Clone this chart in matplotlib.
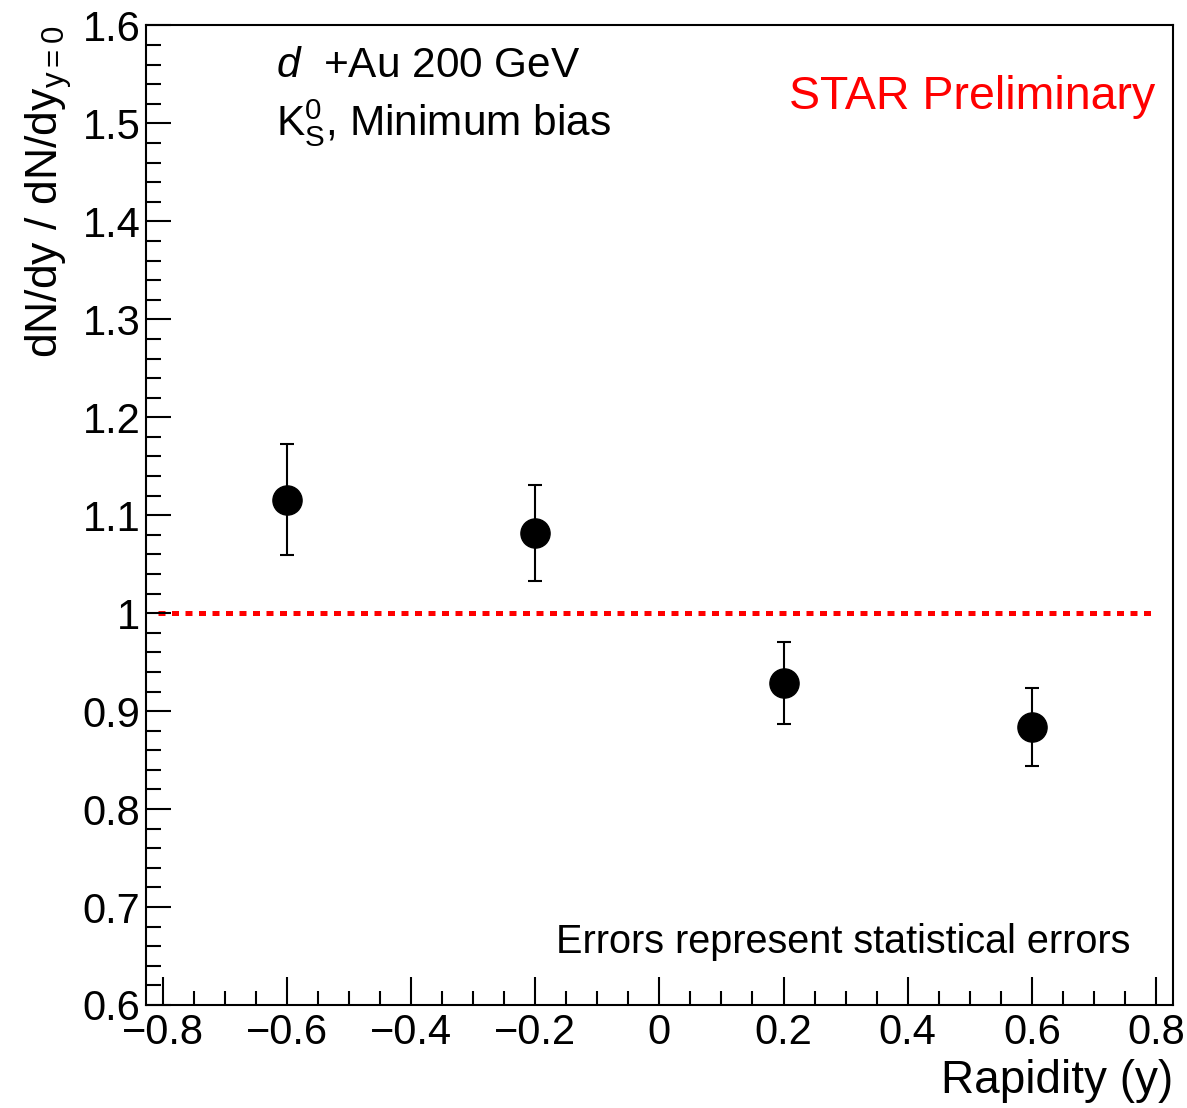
import matplotlib
matplotlib.use("Agg")
import matplotlib.pyplot as plt
from matplotlib.ticker import MultipleLocator, FuncFormatter

plt.rcParams['font.family'] = ['Liberation Sans', 'DejaVu Sans']
plt.rcParams['mathtext.fontset'] = 'custom'
plt.rcParams['mathtext.rm'] = 'Liberation Sans'
plt.rcParams['mathtext.it'] = 'Liberation Sans:italic'

rapidity = [-0.6, -0.2, 0.2, 0.6]
ratio = [1.116, 1.082, 0.929, 0.884]
stat_err = [0.057, 0.049, 0.042, 0.040]
xticks = [-0.8, -0.6, -0.4, -0.2, 0, 0.2, 0.4, 0.6, 0.8]
yticks = [0.6, 0.7, 0.8, 0.9, 1.0, 1.1, 1.2, 1.3, 1.4, 1.5, 1.6]

fig = plt.figure(figsize=(11.87, 11.08), dpi=100)
ax = fig.add_axes([0.123, 0.093, 0.865, 0.884])

ax.plot([-0.808, 0.8], [1.0, 1.0], color='#ff0000', lw=3.6, ls=(0, (1.4, 1.3)),
        dash_capstyle='butt', zorder=1)
ax.errorbar(rapidity, ratio, yerr=stat_err, fmt='o', color='black', ms=21,
            elinewidth=1.5, capsize=5, capthick=1.5, zorder=3)

ax.set_xlim(-0.827, 0.827)
ax.set_ylim(0.6, 1.6)
ax.set_xticks(xticks)
ax.set_yticks(yticks)

def fmt(v, pos):
    s = ('%g' % round(v, 2))
    return s.replace('-', '\u2212')

ax.xaxis.set_major_formatter(FuncFormatter(fmt))
ax.yaxis.set_major_formatter(FuncFormatter(fmt))
ax.xaxis.set_minor_locator(MultipleLocator(0.05))
ax.yaxis.set_minor_locator(MultipleLocator(0.02))
ax.tick_params(which='both', direction='in', top=False, right=False,
               labelsize=30, width=1.5)
ax.tick_params(axis='x', which='major', length=20, pad=6)
ax.tick_params(axis='x', which='minor', length=10)
ax.tick_params(axis='y', which='major', length=18, pad=4)
ax.tick_params(axis='y', which='minor', length=11)
for sp in ax.spines.values():
    sp.set_linewidth(1.5)

ax.set_xlabel('Rapidity (y)', fontsize=33, loc='right', labelpad=4)
ax.set_ylabel(r'dN/dy / dN/dy$_{\mathrm{y{=}0}}$', fontsize=32, loc='top', labelpad=6)

ax.text(0.127, 0.947, r'$\it{d}$  +Au 200 GeV', transform=ax.transAxes,
        fontsize=30.5, ha='left', va='baseline')
ax.text(0.127, 0.888, r'K$^{0}_{\mathrm{S}}$, Minimum bias', transform=ax.transAxes,
        fontsize=30.5, ha='left', va='baseline')
ax.text(0.983, 0.915, 'STAR Preliminary', transform=ax.transAxes,
        fontsize=33.5, color='#ff0000', ha='right', va='baseline')
ax.text(0.959, 0.053, 'Errors represent statistical errors', transform=ax.transAxes,
        fontsize=28.5, ha='right', va='baseline')

fig.savefig('out.png', dpi=100)
